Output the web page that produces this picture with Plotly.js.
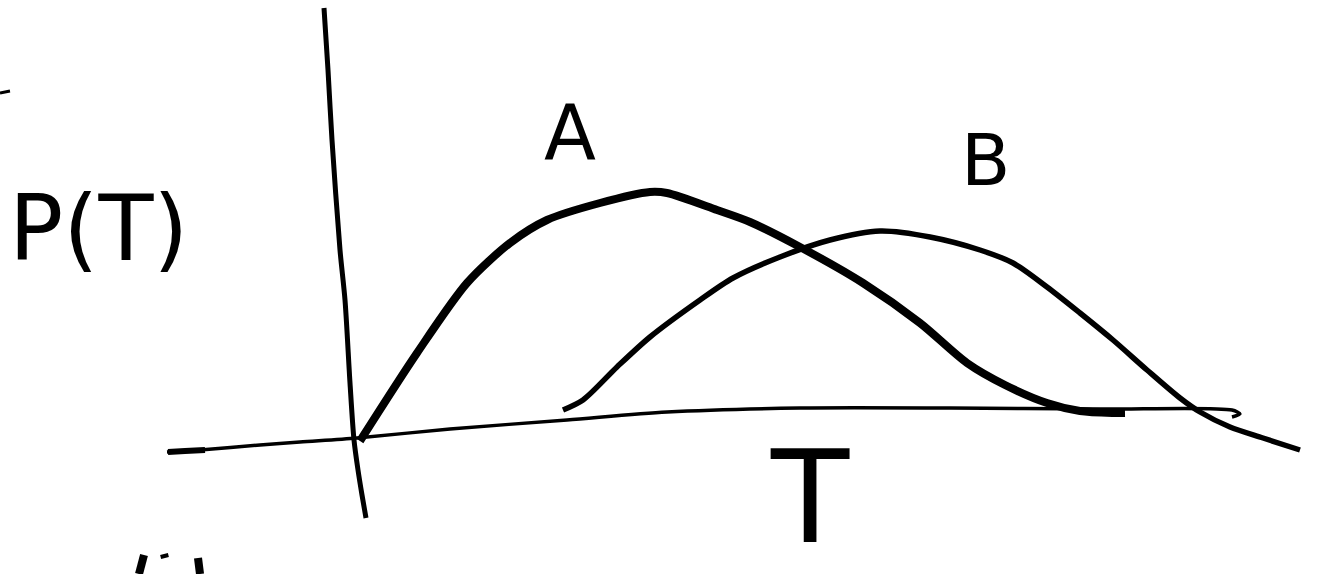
<!DOCTYPE html>
<html>
<head>
<meta charset="utf-8">
<script src="https://cdn.plot.ly/plotly-3.0.1.min.js"></script>
<style>
  body { margin: 0; background: #fff; }
  #plotArea { width: 1318px; height: 574px; }
</style>
</head>
<body>
<div id="plotArea"></div>
<script>
// =============================================================================
// Sketch strokes, in picture pixels (x right, y down)
// =============================================================================

// curve A (left peak)
var aX = [360, 417, 467, 510, 547, 600, 650, 667, 717, 750, 800, 863, 920, 967, 1005, 1047, 1080, 1113, 1125];
var aY = [441, 353, 283, 243, 220, 203, 192, 193, 210, 222, 247, 283, 323, 363, 385, 403, 411, 413, 413];

// curve B (right peak)
var bX = [563, 583, 617, 650, 700, 733, 780, 830, 880, 930, 980, 1013, 1047, 1080, 1113, 1147, 1180, 1200, 1230, 1263, 1300];
var bY = [410, 400, 367, 337, 300, 278, 257, 240, 231, 237, 250, 263, 287, 313, 340, 370, 398, 412, 427, 438, 450];

// hand drawn T axis
var xAxisX = [167, 200, 260, 300, 357, 450, 567, 667, 800, 950, 1100, 1232, 1240, 1232];
var xAxisY = [452, 450, 445, 442, 438, 429, 420, 412, 408, 408, 409, 410, 414, 417];
var xAxisStubX = [168, 185, 205];
var xAxisStubY = [452, 451, 450];

// hand drawn P(T) axis
var yAxisX = [324, 328, 332, 340, 345, 350, 354, 358, 362, 366];
var yAxisY = [8, 70, 140, 250, 300, 383, 440, 470, 495, 518];

// stray pen marks at the edges
var tickX = [0, 10];
var tickY = [93, 91];
var markX = [[144, 139], [164, 165], [198, 200]];
var markY = [[555, 574], [554, 558], [558, 574]];

// labels
var labelText = ["P(T)", "A", "B", "T"];
var labelX = [98, 570, 985, 810];
var labelY = [228, 132, 160, 574];
var labelSize = [90, 76, 72, 128];
var labelAnchor = ["middle", "middle", "middle", "bottom"];

// =============================================================================
// Traces
// =============================================================================

var stroke = function(xs, ys, w) {
    return {
        x: xs,
        y: ys,
        type: "scatter",
        mode: "lines",
        line: {color: "#000", width: w, shape: "spline", smoothing: 0.8},
        hoverinfo: "skip"
    };
};

var data = [
    stroke(xAxisX, xAxisY, 3.5),
    stroke(xAxisStubX, xAxisStubY, 6),
    stroke(yAxisX, yAxisY, 5),
    stroke(aX, aY, 8),
    stroke(bX, bY, 5.5),
    stroke(tickX, tickY, 3)
];

markX.forEach(function(mx, i) {
    data.push(stroke(mx, markY[i], 8));
});

var annotations = labelText.map(function(t, i) {
    return {
        x: labelX[i],
        y: labelY[i],
        xref: "x",
        yref: "y",
        yanchor: labelAnchor[i],
        text: t,
        showarrow: false,
        font: {family: "DejaVu Sans", size: labelSize[i], color: "#000"}
    };
});

var layout = {
    width: 1318,
    height: 574,
    margin: {l: 0, r: 0, t: 0, b: 0},
    paper_bgcolor: "#fff",
    plot_bgcolor: "#fff",
    showlegend: false,
    xaxis: {range: [0, 1318], visible: false, fixedrange: true},
    yaxis: {range: [574, 0], visible: false, fixedrange: true},
    annotations: annotations
};

Plotly.newPlot("plotArea", data, layout, {staticPlot: true});
</script>
</body>
</html>
